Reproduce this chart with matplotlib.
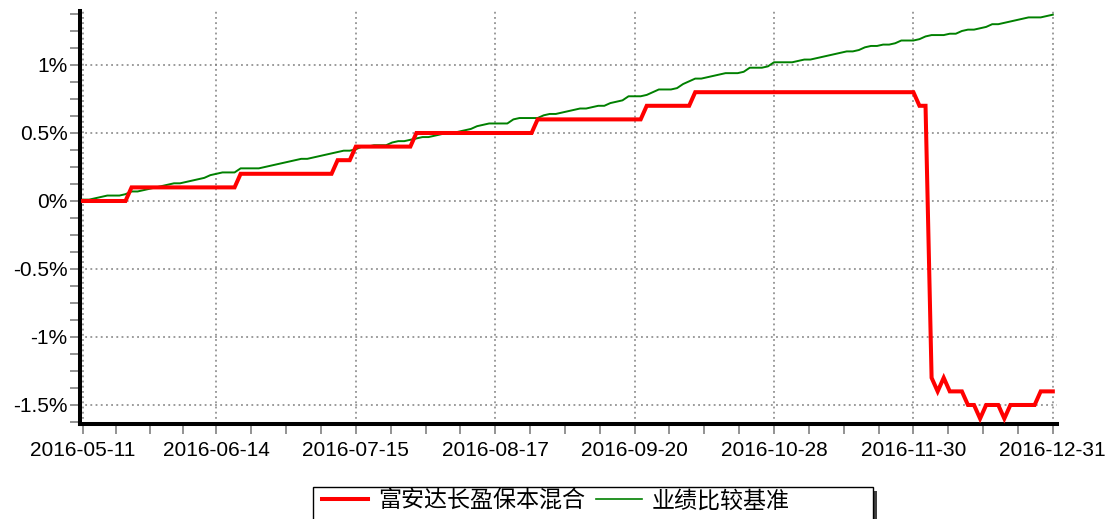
import numpy as np
import matplotlib
matplotlib.use('Agg')
import matplotlib.pyplot as plt
from matplotlib.ticker import MultipleLocator, FixedLocator, FuncFormatter
from matplotlib.patches import Rectangle

plt.rcParams['font.family'] = ['Liberation Sans', 'Noto Sans CJK SC', 'DejaVu Sans']

# Data (percent, one value per trading day)
FUND_NAME = '富安达长盈保本混合'
BENCH_NAME = '业绩比较基准'

fund = [
    0, 0, 0, 0, 0, 0, 0, 0, 0.1, 0.1,
    0.1, 0.1, 0.1, 0.1, 0.1, 0.1, 0.1, 0.1, 0.1, 0.1,
    0.1, 0.1, 0.1, 0.1, 0.1, 0.1, 0.2, 0.2, 0.2, 0.2,
    0.2, 0.2, 0.2, 0.2, 0.2, 0.2, 0.2, 0.2, 0.2, 0.2,
    0.2, 0.2, 0.3, 0.3, 0.3, 0.4, 0.4, 0.4, 0.4, 0.4,
    0.4, 0.4, 0.4, 0.4, 0.4, 0.5, 0.5, 0.5, 0.5, 0.5,
    0.5, 0.5, 0.5, 0.5, 0.5, 0.5, 0.5, 0.5, 0.5, 0.5,
    0.5, 0.5, 0.5, 0.5, 0.5, 0.6, 0.6, 0.6, 0.6, 0.6,
    0.6, 0.6, 0.6, 0.6, 0.6, 0.6, 0.6, 0.6, 0.6, 0.6,
    0.6, 0.6, 0.6, 0.7, 0.7, 0.7, 0.7, 0.7, 0.7, 0.7,
    0.7, 0.8, 0.8, 0.8, 0.8, 0.8, 0.8, 0.8, 0.8, 0.8,
    0.8, 0.8, 0.8, 0.8, 0.8, 0.8, 0.8, 0.8, 0.8, 0.8,
    0.8, 0.8, 0.8, 0.8, 0.8, 0.8, 0.8, 0.8, 0.8, 0.8,
    0.8, 0.8, 0.8, 0.8, 0.8, 0.8, 0.8, 0.8, 0.7, 0.7,
    -1.3, -1.4, -1.3, -1.4, -1.4, -1.4, -1.5, -1.5, -1.6, -1.5,
    -1.5, -1.5, -1.6, -1.5, -1.5, -1.5, -1.5, -1.5, -1.4, -1.4,
    -1.4,
]

bench = [
    0.01, 0.01, 0.02, 0.03, 0.04, 0.04, 0.04, 0.05, 0.07, 0.07,
    0.08, 0.09, 0.10, 0.11, 0.12, 0.13, 0.13, 0.14, 0.15, 0.16,
    0.17, 0.19, 0.20, 0.21, 0.21, 0.21, 0.24, 0.24, 0.24, 0.24,
    0.25, 0.26, 0.27, 0.28, 0.29, 0.30, 0.31, 0.31, 0.32, 0.33,
    0.34, 0.35, 0.36, 0.37, 0.37, 0.38, 0.40, 0.40, 0.41, 0.41,
    0.41, 0.43, 0.44, 0.44, 0.45, 0.46, 0.47, 0.47, 0.48, 0.49,
    0.50, 0.50, 0.51, 0.52, 0.53, 0.55, 0.56, 0.57, 0.57, 0.57,
    0.57, 0.60, 0.61, 0.61, 0.61, 0.61, 0.63, 0.64, 0.64, 0.65,
    0.66, 0.67, 0.68, 0.68, 0.69, 0.70, 0.70, 0.72, 0.73, 0.74,
    0.77, 0.77, 0.77, 0.78, 0.80, 0.82, 0.82, 0.82, 0.83, 0.86,
    0.88, 0.90, 0.90, 0.91, 0.92, 0.93, 0.94, 0.94, 0.94, 0.95,
    0.98, 0.98, 0.98, 0.99, 1.02, 1.02, 1.02, 1.02, 1.03, 1.04,
    1.04, 1.05, 1.06, 1.07, 1.08, 1.09, 1.10, 1.10, 1.11, 1.13,
    1.14, 1.14, 1.15, 1.15, 1.16, 1.18, 1.18, 1.18, 1.19, 1.21,
    1.22, 1.22, 1.22, 1.23, 1.23, 1.25, 1.26, 1.26, 1.27, 1.28,
    1.30, 1.30, 1.31, 1.32, 1.33, 1.34, 1.35, 1.35, 1.35, 1.36,
    1.37,
]

date_labels = ['2016-05-11', '2016-06-14', '2016-07-15', '2016-08-17',
               '2016-09-20', '2016-10-28', '2016-11-30', '2016-12-31']
date_idx = [0, 22, 45, 68, 91, 114, 137, 160]

x = np.arange(len(fund))

fig = plt.figure(figsize=(11.1, 5.19), dpi=100)
ax = fig.add_axes([0.0721, 0.183, 0.8802, 0.7958])

ax.plot(x, fund, color='#ff0000', linewidth=2.9, solid_joinstyle='miter', label=FUND_NAME, zorder=3)
ax.plot(x, bench, color='#008000', linewidth=1.4, label=BENCH_NAME, zorder=2)

ax.set_xlim(-0.5, 160.7)
ax.set_ylim(-1.64, 1.397)

# axes styling
for side in ['top', 'right']:
    ax.spines[side].set_visible(False)
for side in ['left', 'bottom']:
    ax.spines[side].set_linewidth(2.9)
    ax.spines[side].set_color('black')

ax.xaxis.set_major_locator(FixedLocator(date_idx))
ax.set_xticklabels(date_labels)
minor_x = []
for a, b in zip(date_idx[:-1], date_idx[1:]):
    minor_x += list(np.linspace(a, b, 5)[1:-1])
ax.xaxis.set_minor_locator(FixedLocator(minor_x))

ax.yaxis.set_major_locator(MultipleLocator(0.5))
ax.yaxis.set_minor_locator(MultipleLocator(0.125))
ax.yaxis.set_major_formatter(FuncFormatter(lambda v, p: '{:g}%'.format(round(v, 3))))

ax.tick_params(axis='both', which='both', direction='out', length=7, width=1.2, color='#808080')
ax.tick_params(axis='both', which='major', labelsize=15, labelcolor='black')
ax.tick_params(axis='x', which='major', pad=5)
ax.tick_params(axis='y', which='major', pad=2)

ax.grid(True, which='major', color='#808080', linestyle=(0, (1.2, 2.2)), linewidth=1.1)
ax.set_axisbelow(True)

# legend box with shadow
fig.patches.append(Rectangle((317 / 1110, -0.08), 560 / 1110, 0.08 + 1 - 491 / 519,
                             transform=fig.transFigure, facecolor='#404040', edgecolor='none', zorder=1))
fig.patches.append(Rectangle((313 / 1110, -0.05), 560 / 1110, 0.05 + 1 - 487 / 519,
                             transform=fig.transFigure, facecolor='white', edgecolor='black',
                             linewidth=1, zorder=2))
leg = fig.legend(loc='center left', bbox_to_anchor=(322 / 1110, 1 - 501 / 519), ncol=2,
                 frameon=False, borderpad=0, borderaxespad=0,
                 handlelength=2.0, handletextpad=0.42, columnspacing=0.5,
                 prop={'family': ['Noto Sans CJK SC', 'DejaVu Sans'], 'size': 16.6})
leg.get_lines()[1].set_linewidth(1.2)
leg.set_zorder(5)

fig.savefig('out.png', dpi=100)
